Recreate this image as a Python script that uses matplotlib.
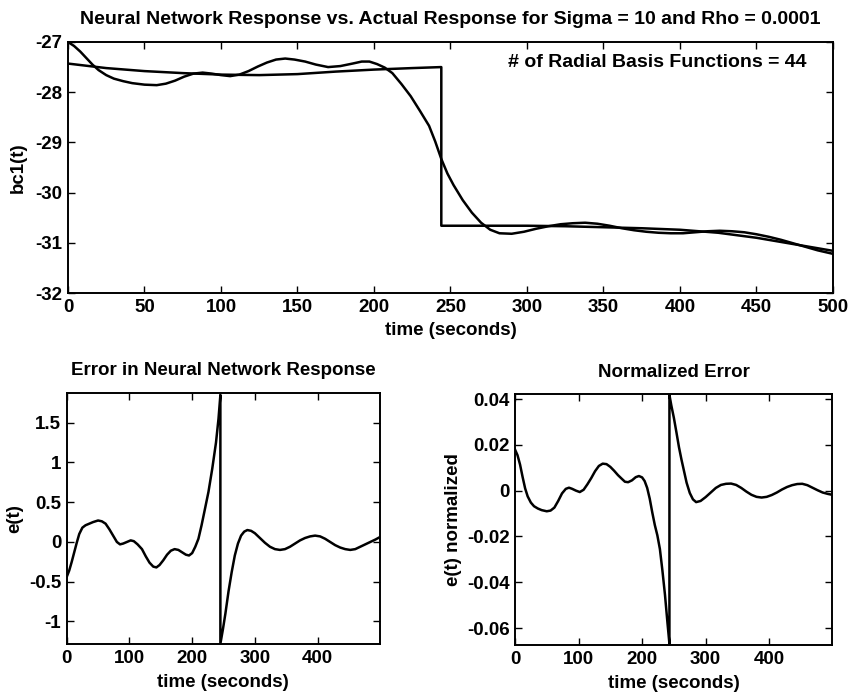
import matplotlib
matplotlib.use("Agg")
import matplotlib.pyplot as plt

plt.rcParams['font.family'] = ['Liberation Sans', 'DejaVu Sans']
plt.rcParams['font.weight'] = 'bold'
plt.rcParams['axes.labelweight'] = 'bold'
plt.rcParams['axes.unicode_minus'] = False

# actual response (step at ~244 s)
t_actual = [0, 25, 50, 75, 100, 125, 150, 175, 200, 225, 244,
            244, 275, 300, 325, 350, 375, 400, 425, 450, 475, 500]
bc1_actual = [-27.43, -27.52, -27.58, -27.62, -27.65, -27.66, -27.64, -27.59, -27.55, -27.52, -27.50,
              -30.66, -30.66, -30.66, -30.67, -30.69, -30.71, -30.74, -30.80, -30.90, -31.03, -31.16]

# neural network response
t_net = [0, 4, 8, 12, 16, 20, 25, 30, 36, 42, 50, 58, 64, 70, 76, 82, 88, 94, 100, 106,
         112, 118, 124, 130, 136, 142, 148, 155, 162, 170, 178, 186, 192, 197, 202, 207,
         212, 218, 224, 230, 236, 240, 244, 248, 252, 258, 264, 270, 276, 282, 290, 298,
         306, 314, 322, 330, 338, 346, 354, 362, 370, 378, 386, 394, 402, 410, 418, 426,
         434, 442, 450, 458, 466, 474, 482, 490, 500]
bc1_net = [-27.0, -27.08, -27.19, -27.32, -27.45, -27.56, -27.66, -27.73, -27.78, -27.82,
           -27.85, -27.86, -27.83, -27.77, -27.69, -27.63, -27.61, -27.63, -27.66, -27.68,
           -27.65, -27.58, -27.49, -27.41, -27.35, -27.33, -27.35, -27.39, -27.45, -27.50,
           -27.48, -27.43, -27.39, -27.39, -27.44, -27.51, -27.62, -27.84, -28.08, -28.37,
           -28.67, -28.98, -29.33, -29.62, -29.85, -30.15, -30.40, -30.60, -30.74, -30.81,
           -30.82, -30.78, -30.72, -30.67, -30.63, -30.61, -30.60, -30.62, -30.66, -30.71,
           -30.75, -30.78, -30.80, -30.81, -30.81, -30.79, -30.77, -30.76, -30.77, -30.79,
           -30.83, -30.88, -30.94, -31.01, -31.08, -31.15, -31.22]

# error e(t)
t_err = [0, 4, 8, 12, 16, 20, 25, 30, 36, 42, 50, 56, 62, 68, 74, 80, 85, 90, 96, 102,
         107, 113, 120, 126, 132, 138, 143, 148, 154, 160, 166, 172, 178, 184, 190, 195,
         200, 205, 210, 215, 220, 226, 232, 238, 242, 245, 245, 249, 253, 258, 263, 268,
         273, 278, 283, 288, 294, 300, 308, 316, 324, 332, 340, 348, 356, 364, 372, 380,
         388, 396, 404, 412, 420, 428, 436, 444, 452, 460, 468, 476, 484, 492, 499]
err = [-0.44, -0.36, -0.25, -0.13, -0.01, 0.10, 0.18, 0.21, 0.23, 0.25, 0.27, 0.26, 0.23,
       0.16, 0.08, 0.0, -0.03, -0.02, 0.0, 0.02, 0.01, -0.03, -0.09, -0.18, -0.26, -0.31,
       -0.32, -0.29, -0.23, -0.16, -0.11, -0.09, -0.10, -0.13, -0.16, -0.17, -0.14, -0.06,
       0.04, 0.21, 0.40, 0.63, 0.92, 1.25, 1.55, 1.85, -1.28, -1.10, -0.90, -0.62, -0.38,
       -0.17, -0.02, 0.08, 0.13, 0.15, 0.14, 0.11, 0.05, -0.01, -0.06, -0.09, -0.10, -0.09,
       -0.06, -0.02, 0.02, 0.05, 0.07, 0.08, 0.07, 0.04, 0.0, -0.04, -0.07, -0.09, -0.10,
       -0.09, -0.06, -0.03, 0.0, 0.03, 0.06]

# normalized error
t_norm = [0, 4, 8, 12, 16, 20, 25, 30, 36, 42, 50, 56, 62, 68, 74, 80, 85, 90, 96, 102,
          108, 114, 120, 126, 132, 138, 144, 150, 156, 162, 168, 173, 178, 184, 190, 195,
          200, 204, 208, 212, 216, 220, 224, 228, 232, 236, 240, 243, 243, 246, 250, 254,
          258, 262, 266, 270, 275, 280, 285, 292, 300, 308, 316, 324, 332, 340, 348, 356,
          364, 372, 380, 388, 396, 404, 412, 420, 428, 436, 444, 452, 460, 468, 476, 484,
          492, 499]
err_norm = [0.018, 0.0155, 0.0114, 0.006, 0.001, -0.0025, -0.0052, -0.0068, -0.0078,
            -0.0085, -0.009, -0.0087, -0.0074, -0.0045, -0.0012, 0.0008, 0.0013, 0.0008,
            0.0, -0.0006, 0.0004, 0.0028, 0.0055, 0.0085, 0.0108, 0.0118, 0.0116, 0.0104,
            0.0087, 0.0068, 0.0052, 0.0039, 0.0037, 0.0045, 0.0059, 0.0064, 0.0058, 0.0042,
            0.0012, -0.0035, -0.0095, -0.015, -0.0195, -0.0255, -0.035, -0.0455, -0.058,
            -0.0669, 0.0418, 0.0372, 0.0318, 0.0255, 0.019, 0.0135, 0.0085, 0.0035, -0.001,
            -0.0038, -0.005, -0.0045, -0.0028, -0.0008, 0.0012, 0.0025, 0.003, 0.0031,
            0.0025, 0.0012, -0.0004, -0.0018, -0.0027, -0.003, -0.0027, -0.0019, -0.0008,
            0.0005, 0.0016, 0.0024, 0.0029, 0.003, 0.0024, 0.0013, 0.0002, -0.0008, -0.0014,
            -0.0018]

fs = 13.5
lw = 1.8

def style(ax):
    ax.tick_params(direction='in', top=True, right=True, length=5, width=1,
                   labelsize=fs, pad=4)
    for s in ax.spines.values():
        s.set_linewidth(1.4)

fig = plt.figure(figsize=(8.54, 6.95), dpi=100)

# top plot
ax1 = fig.add_axes([0.0796, 0.5784, 0.8958, 0.3612])
ax1.plot(t_actual, bc1_actual, color='black', lw=lw)
ax1.plot(t_net, bc1_net, color='black', lw=lw)
ax1.set_xlim(0, 500)
ax1.set_ylim(-32, -27)
ax1.set_xticks(range(0, 501, 50))
ax1.set_yticks(range(-32, -26))
style(ax1)
ax1.set_xlabel('time (seconds)', fontsize=fs)
ax1.xaxis.set_label_coords(0.5, -0.151)
ax1.xaxis.label.set_va('center')
ax1.set_ylabel('bc1(t)', fontsize=fs)
ax1.yaxis.set_label_coords(-0.065, 0.5)
ax1.yaxis.label.set_va('center')
ax1.text(0.5, 1 + 22 / 251, 'Neural Network Response vs. Actual Response for Sigma = 10 and Rho = 0.0001',
         transform=ax1.transAxes, ha='center', va='center', fontsize=14)
ax1.text(483, -27.4, '# of Radial Basis Functions = 44', ha='right', va='center', fontsize=14)

# error plot
ax2 = fig.add_axes([0.0781, 0.0734, 0.3669, 0.3612])
ax2.plot(t_err, err, color='black', lw=lw)
ax2.set_xlim(0, 499.5)
ax2.set_ylim(-1.283, 1.874)
ax2.set_xticks([0, 100, 200, 300, 400])
ax2.set_yticks([-1, -0.5, 0, 0.5, 1, 1.5])
ax2.set_yticklabels(['-1', '-0.5', '0', '0.5', '1', '1.5'])
style(ax2)
ax2.set_xlabel('time (seconds)', fontsize=fs)
ax2.xaxis.set_label_coords(0.5, -0.155)
ax2.xaxis.label.set_va('center')
ax2.set_ylabel('e(t)', fontsize=fs)
ax2.yaxis.set_label_coords(-0.165, 0.5)
ax2.yaxis.label.set_va('center')
ax2.text(0.5, 1 + 22 / 251, 'Error in Neural Network Response',
         transform=ax2.transAxes, ha='center', va='center', fontsize=fs)

# normalized error plot
ax3 = fig.add_axes([0.603, 0.072, 0.3718, 0.361])
ax3.plot(t_norm, err_norm, color='black', lw=lw)
ax3.set_xlim(0, 499.5)
ax3.set_ylim(-0.0674, 0.0422)
ax3.set_xticks([0, 100, 200, 300, 400])
ax3.set_yticks([-0.06, -0.04, -0.02, 0, 0.02, 0.04])
ax3.set_yticklabels(['-0.06', '-0.04', '-0.02', '0', '0.02', '0.04'])
style(ax3)
ax3.set_xlabel('time (seconds)', fontsize=fs)
ax3.xaxis.set_label_coords(0.5, -0.155)
ax3.xaxis.label.set_va('center')
ax3.set_ylabel('e(t) normalized', fontsize=fs)
ax3.yaxis.set_label_coords(-0.195, 0.5)
ax3.yaxis.label.set_va('center')
ax3.text(0.5, 1 + 22 / 251, 'Normalized Error',
         transform=ax3.transAxes, ha='center', va='center', fontsize=fs)

fig.savefig('out.png', dpi=100)
